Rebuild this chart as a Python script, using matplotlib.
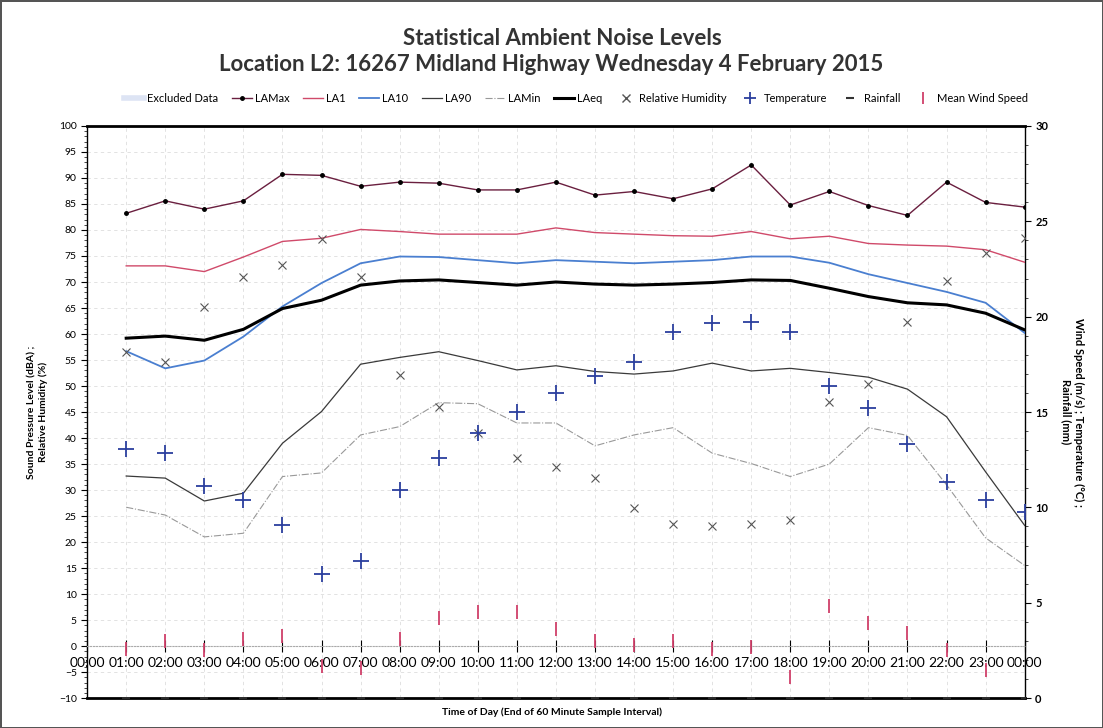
import matplotlib.pyplot as plt
from matplotlib.lines import Line2D
import numpy as np

# hour at end of each 60 minute interval (01:00 .. 24:00)
hours = list(range(1, 25))
hour_labels = ["%02d:00" % (h % 24) for h in range(0, 25)]

la_max = [83.2, 85.6, 84.0, 85.6, 90.7, 90.5, 88.4, 89.2, 89.0, 87.7, 87.7, 89.2,
          86.7, 87.4, 86.0, 87.9, 92.5, 84.8, 87.4, 84.7, 82.8, 89.2, 85.3, 84.4]
la1 = [73.1, 73.1, 72.0, 74.8, 77.8, 78.4, 80.1, 79.7, 79.2, 79.2, 79.2, 80.4,
       79.5, 79.2, 78.9, 78.8, 79.7, 78.3, 78.8, 77.4, 77.1, 76.9, 76.2, 73.8]
la10 = [56.7, 53.4, 54.9, 59.5, 65.3, 69.8, 73.6, 74.9, 74.8, 74.2, 73.6, 74.2,
        73.9, 73.6, 73.9, 74.2, 74.9, 74.9, 73.7, 71.5, 69.8, 68.1, 66.0, 60.2]
la90 = [32.7, 32.3, 27.9, 29.4, 39.0, 45.1, 54.2, 55.5, 56.6, 54.9, 53.1, 53.9,
        52.8, 52.3, 52.9, 54.4, 52.9, 53.4, 52.6, 51.7, 49.4, 44.1, 33.5, 23.2]
la_min = [26.7, 25.2, 21.0, 21.7, 32.6, 33.3, 40.6, 42.2, 46.8, 46.6, 42.9, 42.9,
          38.5, 40.6, 42.0, 37.1, 35.1, 32.6, 35.0, 42.0, 40.5, 31.0, 20.8, 15.5]
la_eq = [59.2, 59.6, 58.8, 60.9, 64.9, 66.5, 69.4, 70.2, 70.4, 69.9, 69.4, 70.0,
         69.6, 69.4, 69.6, 69.9, 70.4, 70.3, 68.8, 67.2, 66.0, 65.6, 64.0, 60.8]
humidity = [56.5, 54.7, 65.1, 71.0, 73.3, 78.2, 71.0, 52.1, 46.0, 40.9, 36.1, 34.4,
            32.3, 26.5, 23.4, 23.1, 23.4, 24.2, 47.0, 50.3, 62.4, 70.1, 75.5, 78.5]
temperature = [13.05, 12.85, 11.1, 10.4, 9.1, 6.5, 7.2, 10.9, 12.6, 13.9, 15.0, 16.0,
               16.9, 17.6, 19.2, 19.65, 19.7, 19.2, 16.35, 15.2, 13.3, 11.35, 10.4, 9.76]
rainfall = [0.0] * 24
wind_speed = [2.6, 3.0, 2.5, 3.1, 3.25, 1.7, 1.6, 3.1, 4.2, 4.5, 4.5, 3.6,
              3.0, 2.8, 3.0, 2.6, 2.7, 1.1, 4.85, 3.95, 3.4, 2.55, 1.5, np.nan]

plt.rcParams['font.family'] = ['Lato', 'DejaVu Sans']

fig = plt.figure(figsize=(11.03, 7.28), dpi=100)
fig.patch.set_edgecolor('#555555')
fig.patch.set_linewidth(2)
ax = fig.add_axes([0.079, 0.041, 0.850, 0.786])
ax2 = ax.twinx()

ax.plot(hours, la_max, color='#6a1f3f', lw=1.0, marker='o', ms=2.5, mfc='black', mec='black', zorder=5)
ax.plot(hours, la1, color='#d04a6a', lw=1.0, zorder=4)
ax.plot(hours, la10, color='#4a7fd0', lw=1.3, zorder=4)
ax.plot(hours, la90, color='#3a3a3a', lw=0.9, zorder=4)
ax.plot(hours, la_min, color='#999999', lw=0.8, ls='-.', zorder=3)
ax.plot(hours, la_eq, color='black', lw=2.2, zorder=6)
ax.plot(hours, humidity, ls='none', marker='x', ms=6, mew=0.8, color='#555555', zorder=7)

ax2.plot(hours, temperature, ls='none', marker='+', ms=12, mew=1.3, color='#2b3f9e', zorder=7)
ax2.plot(hours, rainfall, ls='none', marker='_', ms=6, mew=1.2, color='#333333', zorder=2)
ax2.plot(hours, wind_speed, ls='none', marker='|', ms=10, mew=1.3, color='#d0406a', zorder=7)

ax.set_xlim(0, 24)
ax.set_ylim(-10, 100)
ax2.set_ylim(0, 30)

ax.set_xticks(range(0, 25))
ax.set_xticklabels(hour_labels, fontsize=8.5)
ax.set_yticks(np.arange(-10, 101, 5))
ax.set_yticks(np.arange(-10, 101, 1), minor=True)
ax.tick_params(axis='y', labelsize=7.5, length=4, width=0.8)
ax.tick_params(axis='y', which='minor', length=2, width=0.5)
ax.tick_params(axis='x', direction='inout', length=8, width=0.8, pad=4)
ax2.set_yticks(np.arange(0, 31, 5))
ax2.set_yticks(np.arange(0, 31, 1), minor=True)
ax2.tick_params(axis='y', labelsize=8, length=4, width=0.8)
ax2.tick_params(axis='y', which='minor', length=2, width=0.5)
for lab in ax2.get_yticklabels():
    lab.set_fontweight('bold')

# x axis crosses at 0 dB, plot frame kept all round
ax.spines['bottom'].set_position(('data', 0))
ax.spines['bottom'].set_color('#aaaaaa')
ax.spines['bottom'].set_linestyle(':')
ax.axhline(-10, color='black', lw=2, clip_on=False, zorder=10)
ax.spines['top'].set_linewidth(2)
for s in ['bottom', 'top', 'left', 'right']:
    ax2.spines[s].set_visible(False)
ax.spines['left'].set_linewidth(1)
ax.spines['right'].set_linewidth(1)

ax.grid(True, which='major', axis='both', color='#dddddd', lw=0.6, ls=(0, (4, 4)))
ax.set_axisbelow(True)

ax.set_ylabel('Sound Pressure Level (dBA) ;\nRelative Humidity (%)', fontsize=7.5, fontweight='bold', labelpad=8)
ax2.set_ylabel('Wind Speed (m/s) ; Temperature (°C) ;\nRainfall (mm)', fontsize=8, fontweight='bold',
               rotation=270, labelpad=26)
fig.text(0.5, 0.022, 'Time of Day (End of 60 Minute Sample Interval)', ha='center', va='center',
         fontsize=7.5, fontweight='bold')

fig.text(0.51, 0.947, 'Statistical Ambient Noise Levels', ha='center', va='center',
         fontsize=16, fontweight='bold', color='#333333')
fig.text(0.5, 0.911, 'Location L2: 16267 Midland Highway Wednesday 4 February 2015', ha='center',
         va='center', fontsize=16, fontweight='bold', color='#333333')

handles = [
    Line2D([], [], color='#dde4f4', lw=4),
    Line2D([], [], color='#6a1f3f', lw=1, marker='o', ms=2.5, mfc='black', mec='black'),
    Line2D([], [], color='#d04a6a', lw=1),
    Line2D([], [], color='#4a7fd0', lw=1.3),
    Line2D([], [], color='#3a3a3a', lw=0.9),
    Line2D([], [], color='#999999', lw=0.8, ls='-.'),
    Line2D([], [], color='black', lw=2.2),
    Line2D([], [], ls='none', marker='x', ms=6, color='#555555'),
    Line2D([], [], ls='none', marker='+', ms=9, mew=1.3, color='#2b3f9e'),
    Line2D([], [], ls='none', marker='_', ms=6, mew=1.5, color='#333333'),
    Line2D([], [], ls='none', marker='|', ms=8, mew=1.3, color='#d0406a'),
]
names = ['Excluded Data', 'LAMax', 'LA1', 'LA10', 'LA90', 'LAMin', 'LAeq',
         'Relative Humidity', 'Temperature', 'Rainfall', 'Mean Wind Speed']
fig.legend(handles, names, loc='center', bbox_to_anchor=(0.522, 0.865), ncol=11, frameon=False,
           fontsize=8, handlelength=1.8, columnspacing=1.2, handletextpad=0.3)

plt.savefig('out.png', dpi=100)
